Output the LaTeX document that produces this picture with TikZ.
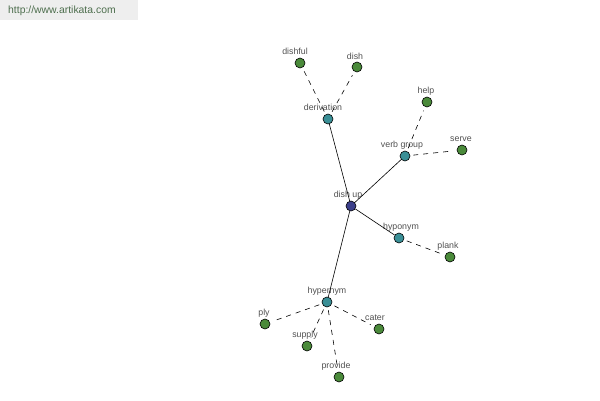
\documentclass[tikz,border=0pt]{standalone}
\usepackage{fontspec}
\setmainfont{Liberation Sans}
\definecolor{hub}{HTML}{3B3F8A}
\definecolor{mid}{HTML}{3A8F96}
\definecolor{leaf}{HTML}{4A8A3A}
\definecolor{lbl}{HTML}{505050}
\definecolor{hdr}{HTML}{EEEEEE}
\definecolor{hdrtxt}{HTML}{4D6E4D}
\tikzset{
  dot/.style={circle,draw=black,line width=0.6pt,minimum size=10pt,inner sep=0pt},
  hubdot/.style={dot,fill=hub},
  middot/.style={dot,fill=mid},
  leafdot/.style={dot,fill=leaf},
  lab/.style={text=lbl,font=\fontsize{8.8}{10}\selectfont,inner sep=0pt},
  solidedge/.style={draw=black,line width=0.6pt},
  dashedge/.style={draw=black,line width=0.6pt,dash pattern=on 5pt off 5pt,shorten >=4pt,shorten <=3pt}
}
\begin{document}
\begin{tikzpicture}[x=1pt,y=-1pt]
\useasboundingbox (0,0) rectangle (600,400);
\fill[hdr] (0,0) rectangle (138,20);
\node[anchor=west,text=hdrtxt,font=\fontsize{10.4}{12}\selectfont,inner sep=0pt] (url) at (8,11) {http://www.artikata.com};
% nodes
\node[hubdot] (dishup) at (351,206) {};
\node[middot] (deriv) at (328,119) {};
\node[leafdot] (dishful) at (300,63) {};
\node[leafdot] (dish) at (357,67) {};
\node[middot] (verb) at (405,156) {};
\node[leafdot] (help) at (427,102) {};
\node[leafdot] (serve) at (462,150) {};
\node[middot] (hypo) at (399,238) {};
\node[leafdot] (plank) at (450,257) {};
\node[middot] (hyper) at (327,302) {};
\node[leafdot] (ply) at (265,324) {};
\node[leafdot] (supply) at (307,346) {};
\node[leafdot] (provide) at (339,377) {};
\node[leafdot] (cater) at (379,329) {};
% labels
\node[lab] (l1) at (348,195) {dish up};
\node[lab] (l2) at (323,107) {derivation};
\node[lab] (l3) at (295,51) {dishful};
\node[lab] (l4) at (355,56) {dish};
\node[lab] (l5) at (402,145) {verb group};
\node[lab] (l6) at (426,91) {help};
\node[lab] (l7) at (461,139) {serve};
\node[lab] (l8) at (401,227) {hyponym};
\node[lab] (l9) at (448,246) {plank};
\node[lab] (l10) at (327,291) {hypernym};
\node[lab] (l11) at (264,313) {ply};
\node[lab] (l12) at (305,335) {supply};
\node[lab] (l13) at (336,366) {provide};
\node[lab] (l14) at (375,318) {cater};
% edges
\draw[solidedge] (dishup) -- (deriv);
\draw[solidedge] (dishup) -- (verb);
\draw[solidedge] (dishup) -- (hypo);
\draw[solidedge] (dishup) -- (hyper);
\draw[dashedge] (deriv) -- (dishful);
\draw[dashedge] (deriv) -- (dish);
\draw[dashedge] (verb) -- (help);
\draw[dashedge] (verb) -- (serve);
\draw[dashedge] (hypo) -- (plank);
\draw[dashedge] (hyper) -- (ply);
\draw[dashedge] (hyper) -- (supply);
\draw[dashedge] (hyper) -- (provide);
\draw[dashedge] (hyper) -- (cater);
\end{tikzpicture}
\end{document}
